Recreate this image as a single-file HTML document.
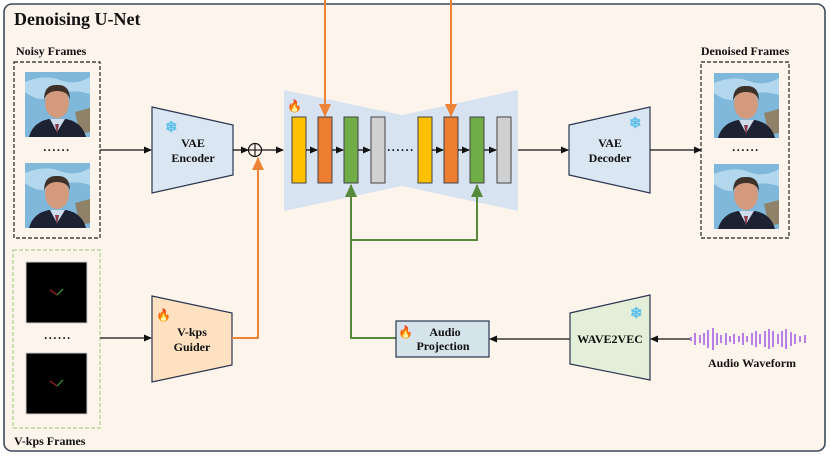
<!DOCTYPE html>
<html><head><meta charset="utf-8">
<style>
html,body{margin:0;padding:0;background:#fff;}
svg{display:block;}
text{font-family:"Liberation Serif","DejaVu Serif",serif;font-weight:bold;fill:#111;}
.dots{letter-spacing:1.6px;}
</style></head>
<body>
<svg width="830" height="458" viewBox="0 0 830 458" xmlns="http://www.w3.org/2000/svg">
<defs>
<marker id="ab" markerWidth="8" markerHeight="8" refX="7" refY="4" orient="auto" markerUnits="userSpaceOnUse"><path d="M0,0.5 L8,4 L0,7.5 z" fill="#111"/></marker>
<marker id="ao" markerWidth="14" markerHeight="12" refX="12" refY="6" orient="auto" markerUnits="userSpaceOnUse"><path d="M0,0 L13,6 L0,12 z" fill="#ee8236"/></marker>
<marker id="ag" markerWidth="14" markerHeight="12" refX="12" refY="6" orient="auto" markerUnits="userSpaceOnUse"><path d="M0,0 L13,6 L0,12 z" fill="#568a3a"/></marker>
<g id="face">
  <rect x="0" y="0" width="65" height="65" fill="#7fb8da"/>
  <path d="M0,10 Q20,2 35,8 T65,5 L65,22 Q45,16 30,24 T0,20z" fill="#c9e4f3" opacity="0.7"/>
  <path d="M50,40 L65,36 L65,60 L55,62z" fill="#8f8268"/>
  <path d="M4,65 Q8,50 24,47 L41,47 Q57,50 61,65z" fill="#1d2233"/>
  <path d="M25,47 L32,60 L40,47z" fill="#cfdcec"/>
  <path d="M30,52 L32,62 L34,52z" fill="#8a3a4a"/>
  <ellipse cx="32" cy="31" rx="12" ry="15" fill="#d39a7e"/>
  <path d="M19,28 Q19,12 32,13 Q45,12 45,28 Q43,19 32,19 Q22,19 19,28z" fill="#3e3129"/>
</g>
<g id="kps">
  <rect x="0" y="0" width="61" height="61" fill="#000" stroke="#ccc" stroke-width="1"/>
  <path d="M24,28 L31,33" stroke="#8a1d1d" stroke-width="1.4"/>
  <path d="M31,33 L37,27" stroke="#2e8a2e" stroke-width="1.4"/>
</g>
</defs>

<rect x="4" y="4" width="821" height="447" rx="8" fill="#fdf5ec" stroke="#3d4a5c" stroke-width="1.6"/>
<text x="14" y="25" font-size="18">Denoising U-Net</text>

<text x="16" y="55" font-size="12">Noisy Frames</text>
<rect x="14" y="62" width="86" height="176" fill="none" stroke="#222" stroke-width="1.2" stroke-dasharray="4,2"/>
<use href="#face" x="25" y="72"/>
<use href="#face" x="25" y="163"/>
<text class="dots" x="57" y="151" font-size="12" text-anchor="middle">......</text>

<line x1="100" y1="150" x2="151" y2="150" stroke="#111" stroke-width="1.3" marker-end="url(#ab)"/>
<polygon points="152,107 233,125 233,175 152,193" fill="#dbe6f3" stroke="#2a3550" stroke-width="1.2"/>
<text x="165" y="132" font-size="15" style="fill:#5cc0e8">❄</text>
<text x="193" y="147" font-size="12" text-anchor="middle">VAE</text>
<text x="193" y="162" font-size="12" text-anchor="middle">Encoder</text>
<line x1="233" y1="150" x2="248" y2="150" stroke="#111" stroke-width="1.3" marker-end="url(#ab)"/>
<circle cx="255" cy="150" r="6.5" fill="none" stroke="#111" stroke-width="1.2"/>
<line x1="248.5" y1="150" x2="261.5" y2="150" stroke="#111" stroke-width="1.1"/>
<line x1="255" y1="143.5" x2="255" y2="156.5" stroke="#111" stroke-width="1.1"/>
<line x1="261.5" y1="150" x2="283" y2="150" stroke="#111" stroke-width="1.3" marker-end="url(#ab)"/>

<polygon points="284,90 402,115 518,90 518,211 402,186 284,211" fill="#d8e3f2"/>
<text x="287" y="110" font-size="12">🔥</text>
<g stroke="#444" stroke-width="1">
<rect x="292" y="117" width="14" height="66" fill="#fec000"/>
<rect x="318" y="117" width="14" height="66" fill="#ed7d31"/>
<rect x="344" y="117" width="14" height="66" fill="#70ad47"/>
<rect x="371" y="117" width="14" height="66" fill="#d0d0d0"/>
<rect x="418" y="117" width="14" height="66" fill="#fec000"/>
<rect x="444" y="117" width="14" height="66" fill="#ed7d31"/>
<rect x="470" y="117" width="14" height="66" fill="#70ad47"/>
<rect x="497" y="117" width="14" height="66" fill="#d0d0d0"/>
</g>
<g stroke="#111" stroke-width="1.3" marker-end="url(#ab)">
<line x1="306" y1="150" x2="317" y2="150"/>
<line x1="332" y1="150" x2="343" y2="150"/>
<line x1="358" y1="150" x2="370" y2="150"/>
<line x1="432" y1="150" x2="443" y2="150"/>
<line x1="458" y1="150" x2="469" y2="150"/>
<line x1="484" y1="150" x2="496" y2="150"/>
</g>
<text class="dots" x="401" y="151" font-size="12" text-anchor="middle">......</text>

<line x1="325" y1="0" x2="325" y2="116" stroke="#ee8236" stroke-width="2" marker-end="url(#ao)"/>
<line x1="451" y1="0" x2="451" y2="116" stroke="#ee8236" stroke-width="2" marker-end="url(#ao)"/>

<polyline points="396,338 351,338 351,185" fill="none" stroke="#568a3a" stroke-width="2" marker-end="url(#ag)"/>
<polyline points="351,240 477,240 477,185" fill="none" stroke="#568a3a" stroke-width="2" marker-end="url(#ag)"/>

<line x1="518" y1="150" x2="568" y2="150" stroke="#111" stroke-width="1.3" marker-end="url(#ab)"/>
<polygon points="569,125 650,107 650,193 569,175" fill="#dbe6f3" stroke="#2a3550" stroke-width="1.2"/>
<text x="629" y="128" font-size="15" style="fill:#5cc0e8">❄</text>
<text x="610" y="147" font-size="12" text-anchor="middle">VAE</text>
<text x="610" y="162" font-size="12" text-anchor="middle">Decoder</text>
<line x1="650" y1="150" x2="701" y2="150" stroke="#111" stroke-width="1.3" marker-end="url(#ab)"/>

<text x="745" y="55" font-size="12" text-anchor="middle">Denoised Frames</text>
<rect x="701" y="62" width="88" height="176" fill="none" stroke="#222" stroke-width="1.2" stroke-dasharray="4,2"/>
<use href="#face" x="714" y="73"/>
<use href="#face" x="714" y="164"/>
<text class="dots" x="746" y="151" font-size="12" text-anchor="middle">......</text>

<rect x="13" y="250" width="87" height="178" fill="none" stroke="#a9d18e" stroke-width="1.2" stroke-dasharray="4,2"/>
<use href="#kps" x="26" y="262"/>
<use href="#kps" x="26" y="353"/>
<text class="dots" x="58" y="339" font-size="12" text-anchor="middle">......</text>
<text x="14" y="445" font-size="12">V-kps Frames</text>

<line x1="100" y1="338" x2="151" y2="338" stroke="#111" stroke-width="1.3" marker-end="url(#ab)"/>
<polygon points="152,296 232,313 232,365 152,382" fill="#fde1c1" stroke="#2a3550" stroke-width="1.2"/>
<text x="156" y="319" font-size="12">🔥</text>
<text x="192" y="336" font-size="12" text-anchor="middle">V-kps</text>
<text x="192" y="351" font-size="12" text-anchor="middle">Guider</text>
<polyline points="232,338 258,338 258,158" fill="none" stroke="#ee8236" stroke-width="2" marker-end="url(#ao)"/>

<rect x="396" y="321" width="93" height="36" fill="#d5e3ea" stroke="#2a3550" stroke-width="1.2"/>
<text x="398" y="336" font-size="12">🔥</text>
<text x="445" y="336" font-size="12" text-anchor="middle">Audio</text>
<text x="443" y="350" font-size="12" text-anchor="middle">Projection</text>
<line x1="570" y1="339" x2="490" y2="339" stroke="#111" stroke-width="1.3" marker-end="url(#ab)"/>
<polygon points="570,313 650,295 650,380 570,364" fill="#e3efd9" stroke="#2a3550" stroke-width="1.2"/>
<text x="630" y="318" font-size="15" style="fill:#5cc0e8">❄</text>
<text x="610" y="343" font-size="12" text-anchor="middle">WAVE2VEC</text>
<line x1="690" y1="339" x2="651" y2="339" stroke="#111" stroke-width="1.3" marker-end="url(#ab)"/>
<g stroke="#b97fe6" stroke-width="2">
<line x1="691" y1="337" x2="691" y2="341"/>
<line x1="695" y1="333" x2="695" y2="345"/>
<line x1="700" y1="335" x2="700" y2="343"/>
<line x1="704" y1="333" x2="704" y2="345"/>
<line x1="708" y1="330" x2="708" y2="348"/>
<line x1="713" y1="328" x2="713" y2="350"/>
<line x1="717" y1="333" x2="717" y2="345"/>
<line x1="721" y1="335" x2="721" y2="343"/>
<line x1="726" y1="333" x2="726" y2="345"/>
<line x1="730" y1="336" x2="730" y2="342"/>
<line x1="734" y1="334" x2="734" y2="344"/>
<line x1="739" y1="336" x2="739" y2="342"/>
<line x1="743" y1="333" x2="743" y2="345"/>
<line x1="747" y1="336" x2="747" y2="342"/>
<line x1="752" y1="333" x2="752" y2="345"/>
<line x1="756" y1="331" x2="756" y2="347"/>
<line x1="760" y1="334" x2="760" y2="344"/>
<line x1="765" y1="331" x2="765" y2="347"/>
<line x1="769" y1="329" x2="769" y2="349"/>
<line x1="773" y1="331" x2="773" y2="347"/>
<line x1="778" y1="334" x2="778" y2="344"/>
<line x1="782" y1="331" x2="782" y2="347"/>
<line x1="786" y1="329" x2="786" y2="349"/>
<line x1="791" y1="332" x2="791" y2="346"/>
<line x1="795" y1="334" x2="795" y2="344"/>
<line x1="800" y1="336" x2="800" y2="342"/>
<line x1="805" y1="335" x2="805" y2="343"/>
</g>
<text x="752" y="367" font-size="12" text-anchor="middle">Audio Waveform</text>
</svg>
</body></html>
